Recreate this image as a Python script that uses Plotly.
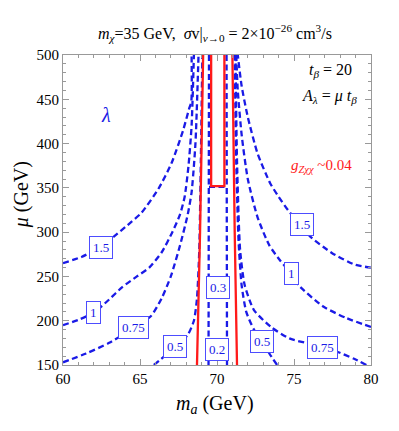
import plotly.graph_objects as go

# ---------------- data (m_a in GeV, mu in GeV) ----------------
# blue dashed lambda contours
lam15_left_m = [60, 61.2, 62.44, 63.3, 64.2, 65.1, 66.2, 67.05, 67.8, 68.2, 68.33, 68.35]
lam15_left_mu = [265, 272, 283, 295, 308, 322, 349, 378, 415, 440, 447, 500]
lam1_left_m = [60, 61, 62, 63, 63.85, 64.8, 65.6, 66.4, 67.1, 67.6, 67.9, 68.15, 68.35, 68.5]
lam1_left_mu = [195, 201, 209, 224, 238, 250, 260, 277, 300, 320, 340, 375, 420, 500]
lam075_left_m = [60, 61.5, 63, 64.6, 65.7, 66.4, 67.0, 67.6, 68.1, 68.35, 68.6, 68.8]
lam075_left_mu = [153, 163, 175, 192, 205, 225, 250, 285, 320, 345, 400, 500]
lam05_left_m = [65.9, 66.6, 67.3, 68.1, 68.5, 68.7, 68.85, 68.95, 69.05]
lam05_left_mu = [150, 160, 171, 184, 200, 225, 280, 380, 500]
inner_left_m = [69.45, 69.48]
inner_left_mu = [150, 500]
inner_right_m = [70.65, 70.62]
inner_right_mu = [150, 500]
inner_bottom_m = [69.48, 70.62]
inner_bottom_mu = [351, 351]
lam05_right_m = [73.9, 73.4, 72.95, 72.4, 71.9, 71.6, 71.4, 71.25, 71.15]
lam05_right_mu = [150, 163, 177, 190, 210, 240, 290, 380, 500]
lam075_right_m = [79.7, 78.9, 77.8, 76.86, 76.0, 74.7, 73.5, 72.4, 71.8, 71.5, 71.3, 71.2]
lam075_right_mu = [150, 157, 165, 170, 174, 180, 193, 212, 240, 280, 380, 500]
lam1_right_m = [80, 78.4, 76.9, 75.3, 74.81, 74.1, 73.4, 72.63, 72.0, 71.6, 71.35, 71.25]
lam1_right_mu = [193, 203, 216, 240, 253, 268, 285, 317, 360, 410, 460, 500]
lam15_right_m = [80, 79.0, 77.5, 76.0, 75.54, 74.74, 74.0, 73.46, 72.63, 72.0, 71.6, 71.35]
lam15_right_mu = [260, 263, 276, 296, 309, 322, 340, 355, 389, 430, 465, 500]

# red g_Zxx ~ 0.04 contours
g_left_m = [68.7, 68.9, 69.1]
g_left_mu = [150, 300, 500]
g_right_m = [71.3, 71.15, 71.0]
g_right_mu = [150, 300, 500]
g_inner_m = [69.62, 69.62, 70.48, 70.48]
g_inner_mu = [500, 352, 352, 500]

# contour labels
label_text = ["1.5", "1", "0.75", "0.5", "0.3", "0.2", "0.5", "0.75", "1", "1.5"]
label_m = [62.44, 62.0, 64.6, 67.3, 70.06, 70.03, 72.95, 76.86, 74.81, 75.54]
label_mu = [283, 209, 192, 171, 237, 168, 177, 170, 253, 309]

x_ticks = [60, 65, 70, 75, 80]
y_ticks = [150, 200, 250, 300, 350, 400, 450, 500]

# ---------------- figure ----------------
BLUE = "#1a1ae6"
RED = "#ff1a1a"
SERIF = "Liberation Serif"

fig = go.Figure()

blue_lines = [
    (lam15_left_m, lam15_left_mu), (lam1_left_m, lam1_left_mu),
    (lam075_left_m, lam075_left_mu), (lam05_left_m, lam05_left_mu),
    (inner_left_m, inner_left_mu), (inner_right_m, inner_right_mu),
    (inner_bottom_m, inner_bottom_mu),
    (lam05_right_m, lam05_right_mu), (lam075_right_m, lam075_right_mu),
    (lam1_right_m, lam1_right_mu), (lam15_right_m, lam15_right_mu),
]
for m, mu in blue_lines:
    fig.add_trace(go.Scatter(x=m, y=mu, mode="lines",
                             line=dict(color=BLUE, width=2.3, dash="6px,3.5px", shape="spline", smoothing=0.6),
                             hoverinfo="skip", showlegend=False))

for m, mu in [(g_left_m, g_left_mu), (g_right_m, g_right_mu), (g_inner_m, g_inner_mu)]:
    fig.add_trace(go.Scatter(x=m, y=mu, mode="lines",
                             line=dict(color=RED, width=2.3),
                             hoverinfo="skip", showlegend=False))

annotations = []
for t, m, mu in zip(label_text, label_m, label_mu):
    annotations.append(dict(x=m, y=mu, xref="x", yref="y", text=t, showarrow=False,
                            font=dict(family=SERIF, size=13, color=BLUE),
                            bgcolor="white", bordercolor="#4d4dff", borderwidth=1, borderpad=3))

annotations += [
    dict(x=0.495, y=1.071, xref="paper", yref="paper", xanchor="center", yanchor="middle", showarrow=False,
         text="<i>m</i><sub><i>χ</i></sub>=35 GeV,  <i>σ</i>v|<sub><i>v</i>→0</sub> = 2×10<sup>−26</sup> cm<sup>3</sup>/s",
         font=dict(family=SERIF, size=16, color="black")),
    dict(x=78.9, y=483, xref="x", yref="y", xanchor="right", yanchor="middle", showarrow=False,
         text="<i>t</i><sub><i>β</i></sub> = 20", font=dict(family=SERIF, size=16, color="black")),
    dict(x=79.2, y=453, xref="x", yref="y", xanchor="right", yanchor="middle", showarrow=False,
         text="<i>A</i><sub><i>λ</i></sub> = <i>μ t</i><sub><i>β</i></sub>", font=dict(family=SERIF, size=16, color="black")),
    dict(x=62.76, y=432, xref="x", yref="y", showarrow=False,
         text="<i>λ</i>", font=dict(family=SERIF, size=20, color=BLUE)),
    dict(x=76.8, y=375, xref="x", yref="y", showarrow=False,
         text="<i>g</i><sub><i>Zχχ</i></sub> ~0.04", font=dict(family=SERIF, size=15, color=RED)),
    dict(x=0.495, y=-0.126, xref="paper", yref="paper", xanchor="center", yanchor="middle", showarrow=False,
         text="<i>m</i><sub><i>a</i></sub> (GeV)", font=dict(family=SERIF, size=20, color="black")),
    dict(x=-0.134, y=0.55, xref="paper", yref="paper", xanchor="center", yanchor="middle", showarrow=False,
         textangle=-90, text="<i>μ</i> (GeV)", font=dict(family=SERIF, size=20, color="black")),
]

axis_common = dict(showgrid=False, zeroline=False, showline=True, linecolor="#999999", linewidth=1,
                   mirror="allticks", ticks="inside", ticklen=6, tickcolor="#999999",
                   tickfont=dict(family=SERIF, size=15, color="black"))

fig.update_xaxes(range=[60, 80], tickvals=x_ticks, ticktext=[str(v) for v in x_ticks],
                 minor=dict(dtick=1, tick0=60, ticks="inside", ticklen=3, tickcolor="#999999"),
                 **axis_common)
fig.update_yaxes(range=[150, 500], tickvals=y_ticks, ticktext=[str(v) for v in y_ticks],
                 minor=dict(dtick=10, tick0=150, ticks="inside", ticklen=3, tickcolor="#999999"),
                 **axis_common)

# the page body adds an 8px margin, so the figure is sized to fit inside the window
fig.update_layout(width=383, height=415, margin=dict(l=55, r=15, t=47, b=58),
                  plot_bgcolor="white", paper_bgcolor="white", annotations=annotations)

fig.write_html("out.html")
